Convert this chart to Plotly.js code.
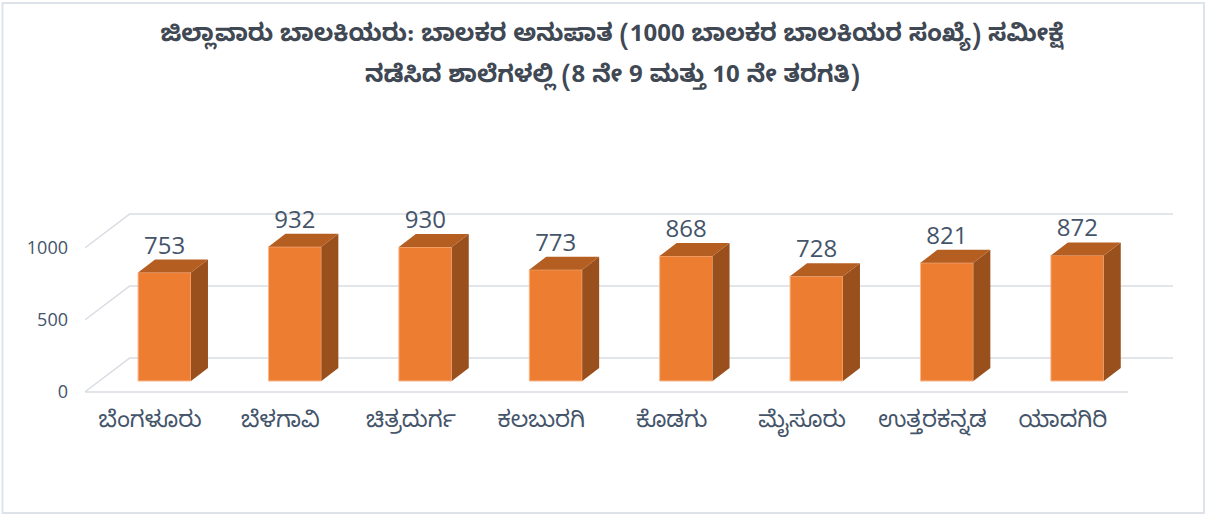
<!DOCTYPE html>
<html>
<head>
<meta charset="utf-8">
<script src="https://cdn.plot.ly/plotly-3.0.1.min.js"></script>
<style>
  html, body { margin: 0; padding: 0; background: #ffffff; }
  #chart { width: 1206px; height: 515px; }
</style>
</head>
<body>
<div id="chart"></div>
<script>
// ---- data ----
const categories = ["ಬೆಂಗಳೂರು", "ಬೆಳಗಾವಿ", "ಚಿತ್ರದುರ್ಗ", "ಕಲಬುರಗಿ", "ಕೊಡಗು", "ಮೈಸೂರು", "ಉತ್ತರಕನ್ನಡ", "ಯಾದಗಿರಿ"];
const ratio = [753, 932, 930, 773, 868, 728, 821, 872];
const yTickValues = [0, 500, 1000];
const titleLine1 = "ಜಿಲ್ಲಾವಾರು ಬಾಲಕಿಯರು: ಬಾಲಕರ ಅನುಪಾತ (1000 ಬಾಲಕರ ಬಾಲಕಿಯರ ಸಂಖ್ಯೆ) ಸಮೀಕ್ಷೆ";
const titleLine2 = "ನಡೆಸಿದ ಶಾಲೆಗಳಲ್ಲಿ (8 ನೇ 9 ಮತ್ತು 10 ನೇ ತರಗತಿ)";

// ---- pseudo-3D projection settings (in axis units) ----
const BAR_W = 0.406;      // width of bar front face
const BAR_DX = 0.13;      // bar depth, x shift
const BAR_DY = 90;        // bar depth, y shift
const FRONT_DX = 0.111;   // bar front plane vs floor front edge
const FRONT_DY = 76;
const FLOOR_DX = 0.345;   // floor depth
const FLOOR_DY = 236;

const FRONT = "#ED7D31", TOP = "#B55E22", SIDE = "#9A501D";
const TEXT = "#44546A", GRID = "#D9DDE3";
const FONT = "'Noto Sans Kannada', 'Noto Sans', 'Open Sans', sans-serif";

const idx = categories.map((_, i) => i);

// side & top faces
const sideX = [], sideY = [], topX = [], topY = [];
ratio.forEach((v, i) => {
  const xl = i - BAR_W / 2, xr = i + BAR_W / 2;
  sideX.push(xr, xr + BAR_DX, xr + BAR_DX, xr, xr, null);
  sideY.push(0, BAR_DY, v + BAR_DY, v, 0, null);
  topX.push(xl, xl + BAR_DX, xr + BAR_DX, xr, xl, null);
  topY.push(v, v + BAR_DY, v + BAR_DY, v, v, null);
});

const traces = [
  {
    type: "bar", x: idx, y: ratio, width: BAR_W,
    marker: { color: FRONT, line: { color: "#F6B88E", width: 1 } },
    hoverinfo: "skip", showlegend: false
  },
  {
    type: "scatter", mode: "lines", x: sideX, y: sideY, fill: "toself",
    fillcolor: SIDE, line: { width: 0, color: SIDE }, hoverinfo: "skip", showlegend: false
  },
  {
    type: "scatter", mode: "lines", x: topX, y: topY, fill: "toself",
    fillcolor: TOP, line: { width: 0, color: TOP }, hoverinfo: "skip", showlegend: false
  },
  {
    type: "scatter", mode: "text", x: idx, y: ratio.map(v => v + BAR_DY),
    text: ratio.map(String), textposition: "top center",
    textfont: { family: "'Open Sans', sans-serif", size: 24, color: TEXT },
    hoverinfo: "skip", showlegend: false
  }
];

// 3D wall/floor grid lines
const xFrontL = -0.5 - FRONT_DX, xFrontR = categories.length - 0.5 - FRONT_DX;
const shapes = [];
yTickValues.forEach(t => {
  const yf = t - FRONT_DY, yb = yf + FLOOR_DY;
  shapes.push({ type: "line", xref: "x", yref: "y", layer: "below",
    x0: xFrontL, y0: yf, x1: xFrontL + FLOOR_DX, y1: yb, line: { color: GRID, width: 1.5 } });
  shapes.push({ type: "line", xref: "x", yref: "y", layer: "below",
    x0: xFrontL + FLOOR_DX, y0: yb, x1: xFrontR + FLOOR_DX, y1: yb, line: { color: GRID, width: 1.5 } });
});
shapes.push({ type: "line", xref: "x", yref: "y", layer: "below",
  x0: xFrontL, y0: -FRONT_DY, x1: xFrontR, y1: -FRONT_DY, line: { color: GRID, width: 1.5 } });
// outer chart border
shapes.push({ type: "rect", xref: "paper", yref: "paper", layer: "below",
  x0: -0.0757, x1: 1.0266, y0: -0.3767, y1: 1.3233, line: { color: "#DEE2E9", width: 2 } });

const layout = {
  width: 1206, height: 515,
  margin: { l: 85, r: 31, t: 100, b: 115 },
  paper_bgcolor: "#ffffff", plot_bgcolor: "rgba(0,0,0,0)",
  showlegend: false,
  title: {
    text: "<b>" + titleLine1 + "</b>",
    font: { family: FONT, size: 24, color: "#404854" },
    x: 0.5075, xref: "container", xanchor: "center",
    y: 1 - 33 / 515, yref: "container", yanchor: "middle"
  },
  annotations: [{
    text: "<b>" + titleLine2 + "</b>", showarrow: false,
    xref: "paper", yref: "paper", x: 0.4835, y: (400 - 78) / 300,
    xanchor: "center", yanchor: "middle",
    font: { family: FONT, size: 24, color: "#404854" }
  }],
  xaxis: {
    range: [-0.61, 7.749], showgrid: false, zeroline: false, showline: false,
    tickmode: "array", tickvals: idx.map(i => i - FRONT_DX), ticktext: categories,
    ticks: "", ticklabelstandoff: 3,
    tickfont: { family: FONT, size: 23, color: TEXT }, fixedrange: true
  },
  yaxis: {
    range: [-131.9, 1951.4], showgrid: false, zeroline: false, showline: false,
    tickmode: "array", tickvals: yTickValues.map(v => v - FRONT_DY),
    ticktext: yTickValues.map(String),
    ticks: "", ticklabelstandoff: 16,
    tickfont: { family: "'Open Sans', sans-serif", size: 18, color: TEXT }, fixedrange: true
  },
  shapes: shapes
};

Plotly.newPlot("chart", traces, layout, { displayModeBar: false, staticPlot: true });
</script>
</body>
</html>
